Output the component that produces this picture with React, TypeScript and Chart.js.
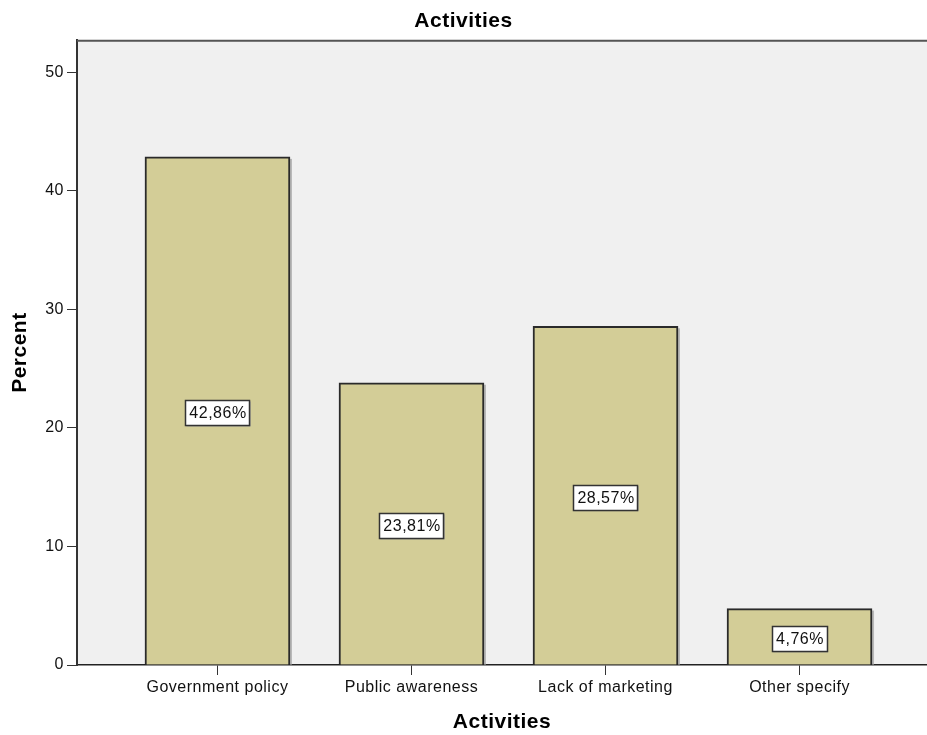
import React, { useEffect, useRef } from "react";
import { Chart, registerables } from "chart.js";

Chart.register(...registerables);

const categories = ["Government policy", "Public awareness", "Lack of marketing", "Other specify"];
const percents = [42.86, 23.81, 28.57, 4.76];
const valueLabels = ["42,86%", "23,81%", "28,57%", "4,76%"];
const yTicks = [0, 10, 20, 30, 40, 50];

const FONT = "'Liberation Sans', Arial, sans-serif";

const framePlugin = {
  id: "frame",
  beforeDraw(chart: any) {
    const { ctx, chartArea: a } = chart;
    (ctx as any).letterSpacing = "0.5px";
    ctx.save();
    ctx.fillStyle = "#F0F0F0";
    ctx.fillRect(a.left, a.top, a.right - a.left, a.bottom - a.top);
    ctx.restore();
  },
  beforeDatasetsDraw(chart: any) {
    const { ctx } = chart;
    const meta = chart.getDatasetMeta(0);
    ctx.save();
    ctx.fillStyle = "#b8b8b8";
    meta.data.forEach((bar: any) => {
      const right = bar.x + bar.width / 2;
      ctx.fillRect(right, bar.y + 2, 2, bar.base - bar.y - 2);
    });
    ctx.restore();
  },
  afterDatasetsDraw(chart: any) {
    const { ctx, chartArea: a } = chart;
    ctx.save();
    ctx.strokeStyle = "#555";
    ctx.lineWidth = 2;
    ctx.beginPath();
    ctx.moveTo(a.left, a.top + 0.5);
    ctx.lineTo(a.right, a.top + 0.5);
    ctx.stroke();
    // value labels
    const meta = chart.getDatasetMeta(0);
    const yScale = chart.scales.y;
    ctx.font = `16px ${FONT}`;
    ctx.textAlign = "center";
    ctx.textBaseline = "middle";
    meta.data.forEach((bar: any, i: number) => {
      const cx = bar.x;
      const cy = yScale.getPixelForValue(percents[i] / 2) + 2;
      const text = valueLabels[i];
      const w = ctx.measureText(text).width + 7;
      const h = 25;
      ctx.fillStyle = "#9a9a9a";
      ctx.fillRect(cx - w / 2 + 1, cy - h / 2 + 1, w, h);
      ctx.fillStyle = "#ffffff";
      ctx.fillRect(cx - w / 2, cy - h / 2, w, h);
      ctx.strokeStyle = "#333";
      ctx.lineWidth = 1.5;
      ctx.strokeRect(Math.round(cx - w / 2) + 0.5, Math.round(cy - h / 2) + 0.5, Math.round(w), h);
      ctx.fillStyle = "#111";
      ctx.fillText(text, cx + 0.5, cy + 1);
    });
    ctx.restore();
  },
};

export default function App() {
  const ref = useRef<HTMLCanvasElement>(null);
  useEffect(() => {
    if (!ref.current) return;
    const chart = new Chart(ref.current, {
      type: "bar",
      data: {
        datasets: [
          {
            data: percents.map((v, i) => ({ x: i, y: v })),
            backgroundColor: "#D3CD97",
            borderColor: "#2a2a2a",
            borderWidth: 2,
            barThickness: 145,
          },
        ],
      },
      plugins: [framePlugin],
      options: {
        animation: false,
        responsive: false,
        maintainAspectRatio: false,
        layout: { padding: { left: 0, right: 0, top: 0, bottom: 0 } },
        plugins: {
          legend: { display: false },
          tooltip: { enabled: false },
          title: {
            display: true,
            text: "Activities",
            color: "#000",
            font: { family: FONT, size: 21, weight: "bold" },
            padding: { top: 9, bottom: 6 },
          },
        },
        scales: {
          x: {
            type: "linear",
            min: -0.724,
            max: 3.657,
            offset: false,
            afterFit(scale: any) {
              scale.height = 70;
            },
            afterBuildTicks(scale: any) {
              scale.ticks = categories.map((_, i) => ({ value: i }));
            },
            ticks: {
              autoSkip: false,
              maxRotation: 0,
              color: "#111",
              font: { family: FONT, size: 16 },
              padding: 3,
              callback: (v: any) => categories[v] ?? "",
            },
            grid: {
              display: true,
              offset: false,
              drawOnChartArea: false,
              drawTicks: true,
              tickLength: 10,
              color: "#333",
            },
            border: { display: true, color: "#222", width: 1.5 },
            title: {
              display: true,
              text: "Activities",
              color: "#000",
              font: { family: FONT, size: 21, weight: "bold" },
              padding: { top: 3, bottom: 0 },
            },
          },
          y: {
            type: "linear",
            min: 0,
            max: 52.7,
            afterFit(scale: any) {
              scale.width = 77;
            },
            afterBuildTicks(scale: any) {
              scale.ticks = yTicks.map((v) => ({ value: v }));
            },
            ticks: {
              color: "#111",
              font: { family: FONT, size: 16 },
              padding: 3,
              callback: (v: any) => String(v),
            },
            grid: {
              display: true,
              drawOnChartArea: false,
              drawTicks: true,
              tickLength: 10,
              color: "#333",
            },
            border: { display: true, color: "#333", width: 2 },
            title: {
              display: true,
              text: "Percent",
              color: "#000",
              font: { family: FONT, size: 21, weight: "bold" },
              padding: { top: 8, bottom: 0 },
            },
          },
        },
      },
    } as any);
    return () => chart.destroy();
  }, []);
  return (
    <div style={{ position: "absolute", left: 0, top: 0, width: 927, height: 735, background: "#fff" }}>
      <canvas ref={ref} width={927} height={735} style={{ display: "block" }} />
    </div>
  );
}
